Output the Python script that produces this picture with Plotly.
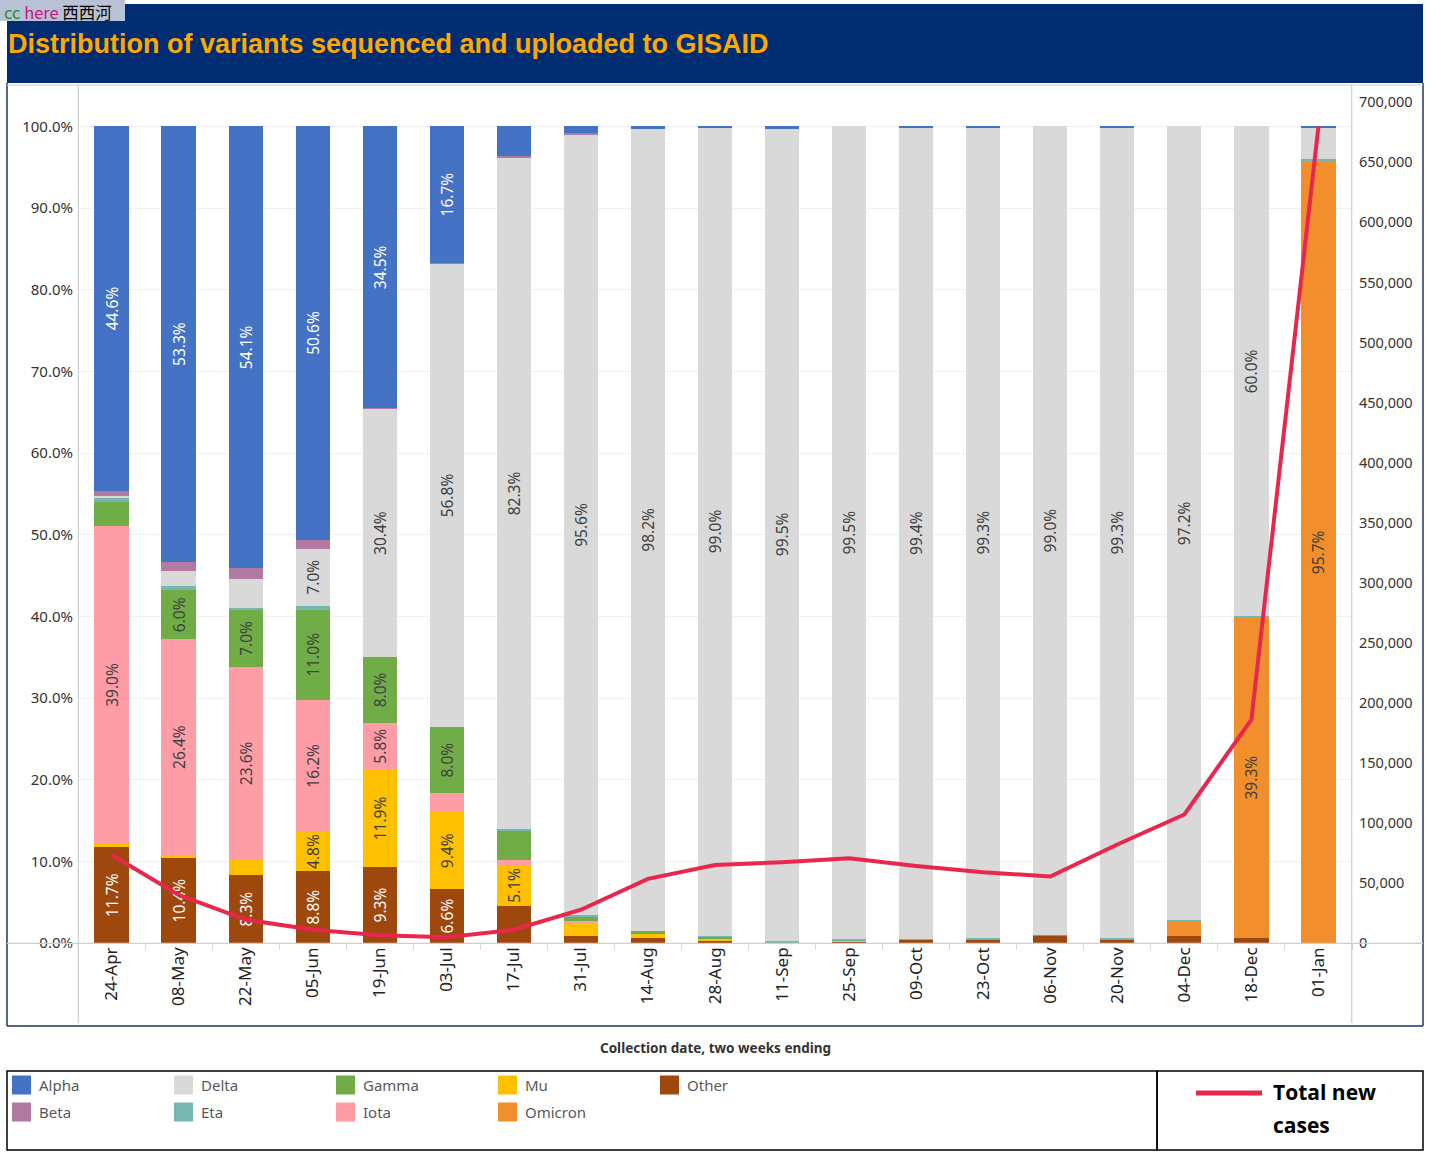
import plotly.graph_objects as go

# ---------------- data ----------------
dates = ["24-Apr", "08-May", "22-May", "05-Jun", "19-Jun", "03-Jul", "17-Jul", "31-Jul",
         "14-Aug", "28-Aug", "11-Sep", "25-Sep", "09-Oct", "23-Oct", "06-Nov", "20-Nov",
         "04-Dec", "18-Dec", "01-Jan"]

other   = [11.7, 10.4, 8.3, 8.8, 9.3, 6.6, 4.5, 0.8, 0.6, 0.2, 0.0, 0.2, 0.4, 0.4, 0.9, 0.4, 0.9, 0.6, 0.0]
omicron = [0, 0, 0, 0, 0, 0, 0, 0, 0, 0, 0, 0, 0, 0, 0, 0, 1.8, 39.3, 95.7]
mu      = [0.4, 0.4, 1.9, 4.8, 11.9, 9.4, 5.1, 1.7, 0.5, 0.4, 0.0, 0.1, 0, 0, 0, 0, 0, 0, 0]
iota    = [39.0, 26.4, 23.6, 16.2, 5.8, 2.4, 0.6, 0.2, 0, 0, 0, 0, 0, 0, 0, 0, 0, 0, 0]
gamma   = [2.9, 6.0, 7.0, 11.0, 8.0, 8.0, 3.6, 0.6, 0.4, 0.2, 0, 0, 0, 0, 0.1, 0, 0, 0, 0]
eta     = [0.5, 0.5, 0.2, 0.5, 0.0, 0.0, 0.1, 0.1, 0, 0.1, 0.3, 0.2, 0.1, 0.2, 0, 0.2, 0.1, 0.1, 0.3]
delta   = [0.2, 1.8, 3.6, 7.0, 30.4, 56.8, 82.3, 95.6, 98.2, 99.0, 99.5, 99.5, 99.4, 99.3, 99.0, 99.3, 97.2, 60.0, 3.9]
beta    = [0.7, 1.2, 1.3, 1.1, 0.1, 0.1, 0.2, 0.2, 0.1, 0, 0, 0, 0, 0, 0, 0, 0, 0, 0]
alpha   = [44.6, 53.3, 54.1, 50.6, 34.5, 16.7, 3.6, 0.8, 0.2, 0.1, 0.2, 0, 0.1, 0.1, 0, 0.1, 0, 0, 0.1]

total_new_cases = [73500, 40000, 19500, 11000, 6500, 4800, 11000, 27700, 53400, 65000, 67300,
                   70600, 64200, 59000, 55400, 82000, 107000, 186000, 680000]

left_ticks = [i / 10 for i in range(11)]
right_ticks = list(range(0, 700001, 50000))

# stacking order bottom -> top
series = [
    ("Other", other, "#9E480E", "white"),
    ("Omicron", omicron, "#F28E2B", "#404040"),
    ("Mu", mu, "#FFC000", "#404040"),
    ("Iota", iota, "#FF9DA7", "#404040"),
    ("Gamma", gamma, "#70AD47", "#404040"),
    ("Eta", eta, "#76B7B2", "#404040"),
    ("Delta", delta, "#D9D9D9", "#404040"),
    ("Beta", beta, "#B07AA1", "#404040"),
    ("Alpha", alpha, "#4472C4", "white"),
]
legend_rows = [["Alpha", "Delta", "Gamma", "Mu", "Other"],
               ["Beta", "Eta", "Iota", "Omicron"]]
line_color = "#E8274F"

FONT = "Noto Sans"
W, H = 1431, 1159
L, R, T, B = 78, 1352, 85, 943


def px(x):
    return (x - L) / (R - L)


def py(y):
    return (B - y) / (B - T)


fig = go.Figure()
for name, vals, color, tcol in series:
    fig.add_trace(go.Bar(
        x=dates, y=[v / 100 for v in vals], name=name,
        marker=dict(color=color, line=dict(width=0)),
        width=0.51,
        text=[f"{v:.1f}%" if v >= 4.75 else "" for v in vals],
        textposition="inside", insidetextanchor="middle", textangle=-90,
        textfont=dict(color=tcol, size=15.5, family=FONT),
        showlegend=False, hoverinfo="skip",
    ))

fig.add_trace(go.Scatter(
    x=dates, y=total_new_cases, yaxis="y2", mode="lines",
    line=dict(color=line_color, width=4), name="Total new cases",
    showlegend=False, hoverinfo="skip",
))

shapes = []
# banner
shapes.append(dict(type="rect", xref="paper", yref="paper", x0=px(7), x1=px(1423), y0=py(4), y1=py(83),
                   fillcolor="#002D72", line=dict(width=0), layer="below"))
# watermark box
shapes.append(dict(type="rect", xref="paper", yref="paper", x0=px(0), x1=px(125), y0=py(0), y1=py(21),
                   fillcolor="#B7C3D5", line=dict(width=0), layer="above"))
navy = "#1F3464"
for (x0, y0, x1, y1) in [(7, 83, 7, 1026), (7, 1026, 1423, 1026), (1423, 83, 1423, 1026)]:
    shapes.append(dict(type="line", xref="paper", yref="paper", x0=px(x0), x1=px(x1), y0=py(y0), y1=py(y1),
                       line=dict(color=navy, width=1.5)))
grey = "#CFCFCF"
for (x0, y0, x1, y1) in [(7, 85, 1423, 85), (7, 943.3, 1423, 943.3), (78.3, 85, 78.3, 1023),
                         (1351.7, 85, 1351.7, 1023)]:
    shapes.append(dict(type="line", xref="paper", yref="paper", x0=px(x0), x1=px(x1), y0=py(y0), y1=py(y1),
                       line=dict(color=grey, width=1.2)))
# legend boxes
for (x0, x1) in [(7, 1157), (1157, 1423)]:
    shapes.append(dict(type="rect", xref="paper", yref="paper", x0=px(x0), x1=px(x1), y0=py(1071), y1=py(1150),
                       line=dict(color="black", width=1.5), fillcolor="rgba(0,0,0,0)"))
shapes.append(dict(type="line", xref="paper", yref="paper", x0=px(1196), x1=px(1262), y0=py(1093), y1=py(1093),
                   line=dict(color=line_color, width=5)))

annotations = []
annotations.append(dict(xref="paper", yref="paper", x=px(2), y=py(12), xanchor="left", yanchor="middle",
                        showarrow=False,
                        text="<span style='color:#2E8B2E'>cc</span> <span style='color:#C0157F'>here</span> 西西河",
                        font=dict(family="Noto Sans CJK SC", size=16.5, color="black")))
annotations.append(dict(xref="paper", yref="paper", x=px(6), y=py(44), xanchor="left", yanchor="middle",
                        showarrow=False, text="<b>Distribution of variants sequenced and uploaded to GISAID</b>",
                        font=dict(family="Liberation Sans", size=27, color="#FFA800")))
annotations.append(dict(xref="paper", yref="paper", x=px(715), y=py(1048), xanchor="center", yanchor="middle",
                        showarrow=False, text="<b>Collection date, two weeks ending</b>",
                        font=dict(family=FONT, size=13.5, color="#333333")))

colors = {name: c for name, _, c, _ in series}
for r, row in enumerate(legend_rows):
    yc = 1085 + r * 27
    for c, name in enumerate(row):
        x0 = 12 + 162 * c
        shapes.append(dict(type="rect", xref="paper", yref="paper", x0=px(x0), x1=px(x0 + 19),
                           y0=py(yc - 9.5), y1=py(yc + 9.5), fillcolor=colors[name], line=dict(width=0)))
        annotations.append(dict(xref="paper", yref="paper", x=px(x0 + 25), y=py(yc), xanchor="left",
                                yanchor="middle", showarrow=False, text=name,
                                font=dict(family=FONT, size=15, color="#595959")))
annotations.append(dict(xref="paper", yref="paper", x=px(1271), y=py(1092), xanchor="left", yanchor="middle",
                        showarrow=False, text="<b>Total new</b>",
                        font=dict(family="Open Sans", size=21, color="black")))
annotations.append(dict(xref="paper", yref="paper", x=px(1271), y=py(1125), xanchor="left", yanchor="middle",
                        showarrow=False, text="<b>cases</b>",
                        font=dict(family="Open Sans", size=21, color="black")))

fig.update_layout(
    width=W, height=H,
    margin=dict(l=L, r=W - R, t=T, b=H - B, autoexpand=False),
    paper_bgcolor="white", plot_bgcolor="white",
    barmode="stack", bargap=0.49,
    uniformtext=dict(mode="show", minsize=15.5),
    showlegend=False,
    font=dict(family=FONT, color="#333333"),
    xaxis=dict(type="category", range=[-0.5, 18.5], tickangle=-90,
               tickfont=dict(size=17, color="#222222", family=FONT),
               ticks="outside", tickson="boundaries", ticklen=6, tickcolor="#D6D6D6",
               showgrid=False, showline=False, zeroline=False),
    yaxis=dict(range=[0, 1.0507], tickvals=left_ticks, tickformat=".1%",
               tickfont=dict(size=15, color="#333333", family=FONT),
               showgrid=True, gridcolor="#F0F0F0", gridwidth=1, zeroline=False, showline=False,
               ticks="", ticklabelstandoff=4),
    yaxis2=dict(range=[0, 714400], tickvals=right_ticks, tickformat=",d", overlaying="y", side="right",
                tickfont=dict(size=14.5, color="#333333", family=FONT),
                showgrid=False, zeroline=False, showline=False, ticks="", ticklabelstandoff=6),
    shapes=shapes, annotations=annotations,
)

fig.write_html("out.html", config={"displayModeBar": False},
               post_script="document.body.style.margin='0';")
